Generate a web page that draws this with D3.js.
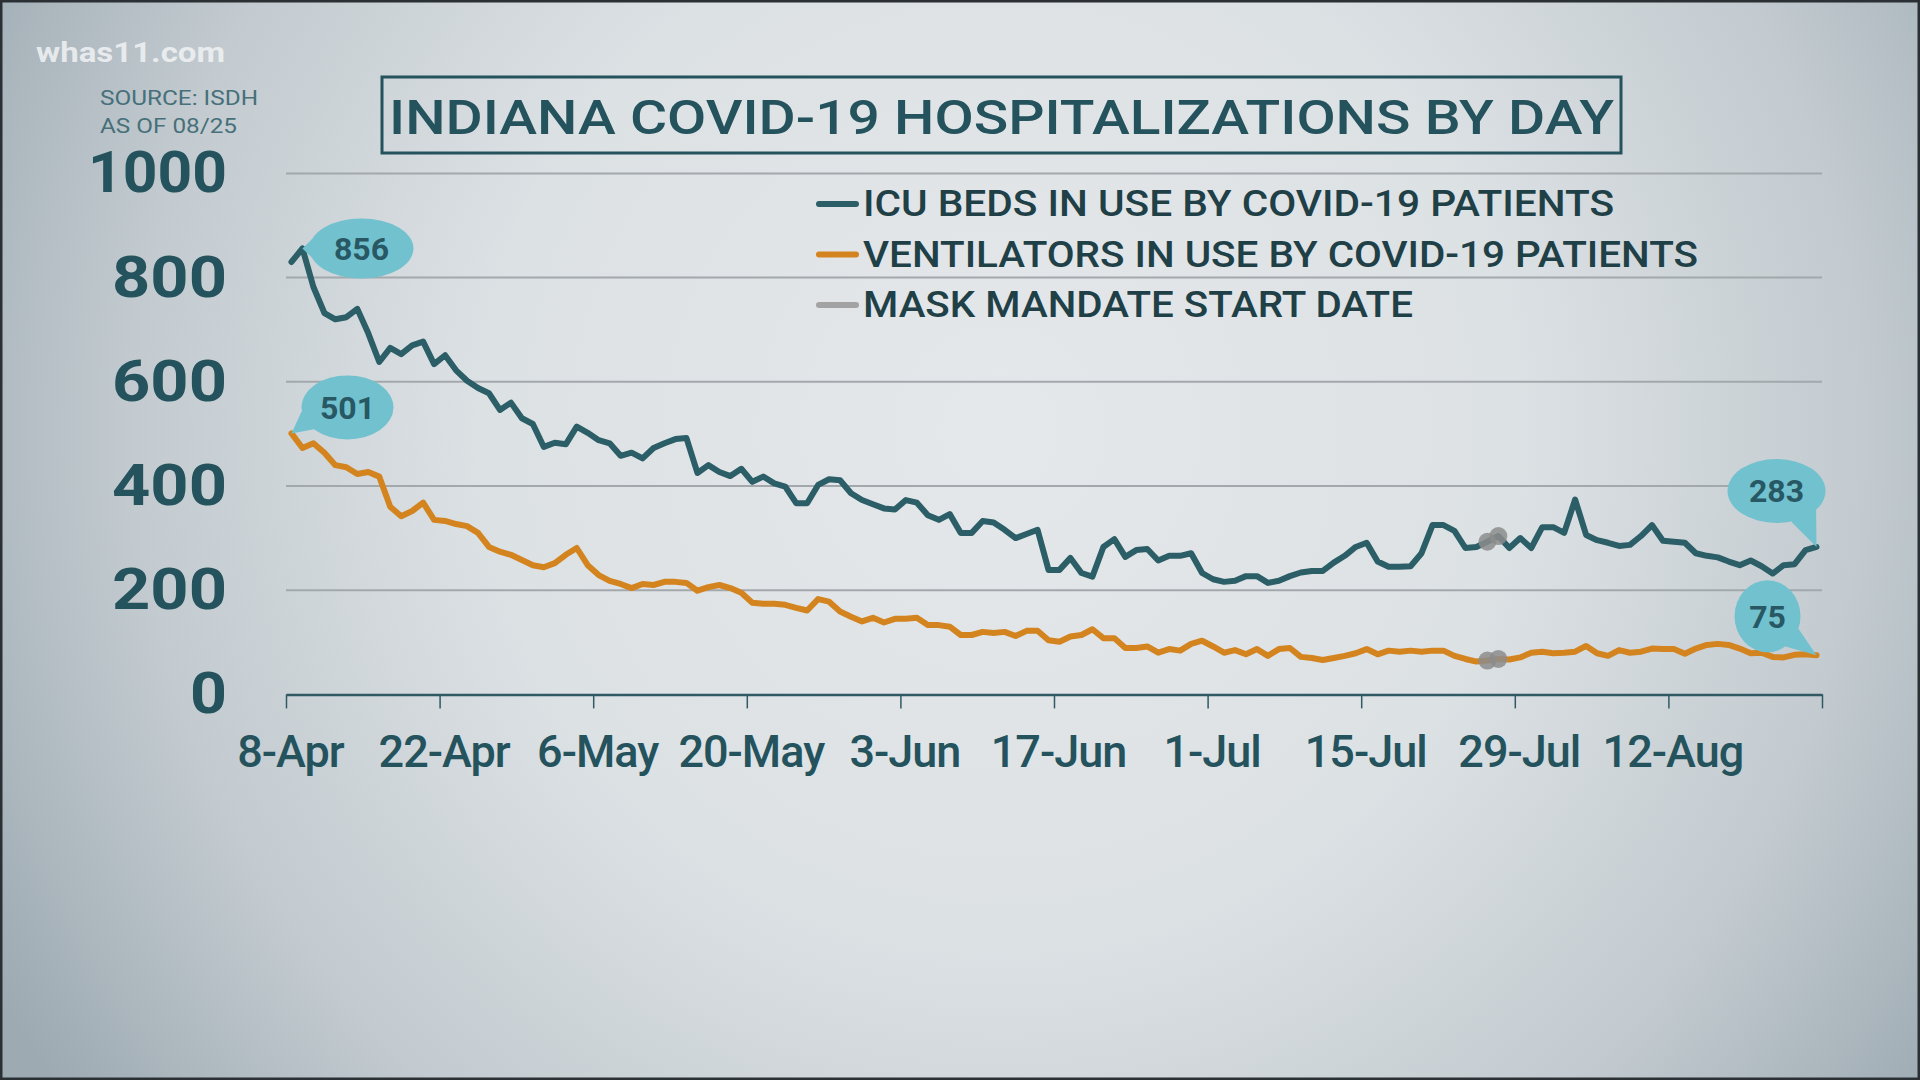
<!DOCTYPE html>
<html><head><meta charset="utf-8">
<script src="https://cdn.jsdelivr.net/npm/d3@7"></script>
<style>html,body{margin:0;padding:0;overflow:hidden;background:#c9d0d4}</style>
</head><body><svg id="chart" width="1920" height="1080"></svg>
<script>
// ---------------- DATA ----------------
const startDate = "2020-04-08";           // first daily value
const icuBeds = [830,856,782,732,720,724,740,693,638,665,653,670,677,634,651,622,602,588,578,546,
  560,530,519,475,483,480,514,502,488,482,458,464,453,473,482,490,492,425,440,427,
  419,433,408,418,405,399,367,367,402,413,411,386,373,365,357,355,373,368,344,335,
  346,310,310,333,330,316,300,308,316,239,239,262,233,226,283,298,264,277,279,257,
  266,266,271,233,221,216,218,227,227,214,218,227,234,237,237,253,266,283,291,255,
  245,245,246,271,325,325,314,281,283,293,304,281,300,281,321,321,310,374,306,296,
  291,285,287,304,325,295,293,291,271,266,263,255,248,257,246,232,248,250,277,283];
const ventilators = [501,473,482,464,440,436,423,427,418,360,342,352,368,335,333,327,323,310,283,274,
  268,258,248,244,252,268,281,248,229,218,212,204,212,210,216,216,214,199,206,210,
  204,195,176,174,174,172,166,161,183,178,159,149,140,147,138,145,145,147,133,133,
  130,114,114,120,118,120,112,122,122,104,101,111,114,125,108,108,89,89,92,80,
  87,84,97,103,92,80,85,77,87,74,87,89,72,70,66,70,74,79,87,77,
  84,82,84,82,84,84,74,68,63,65,68,67,71,80,82,79,80,82,93,79,
  74,85,80,82,88,87,87,78,88,95,97,95,88,79,80,72,71,76,77,75];
const maskMandateDates = ["2020-07-26","2020-07-27"];
const xTickDates = ["2020-04-08","2020-04-22","2020-05-06","2020-05-20","2020-06-03","2020-06-17",
  "2020-07-01","2020-07-15","2020-07-29","2020-08-12","2020-08-26"];
const xTickLabels = ["8-Apr","22-Apr","6-May","20-May","3-Jun","17-Jun","1-Jul","15-Jul","29-Jul","12-Aug",""];
const yTicks = [0,200,400,600,800,1000];
const legendLabels = ["ICU BEDS IN USE BY COVID-19 PATIENTS","VENTILATORS IN USE BY COVID-19 PATIENTS","MASK MANDATE START DATE"];
const titleText = "INDIANA COVID-19 HOSPITALIZATIONS BY DAY";
const sourceLines = ["SOURCE: ISDH","AS OF 08/25"];
const logoText = "whas11.com";

// ---------------- STYLE ----------------
const C = {icu:"#2b5e67", vent:"#d4841f", mask:"#8c8c8c", text:"#24535d", legend:"#1f4047",
  grid:"#a2a8ac", axis:"#2f5a63", bubble:"#72c1cf", bubbleText:"#275864"};
const FONT = "Roboto, 'Open Sans', Lato, sans-serif";

const svg = d3.select("#chart");
const defs = svg.append("defs");
const rg = defs.append("radialGradient").attr("id","bg").attr("gradientUnits","userSpaceOnUse")
  .attr("cx",1000).attr("cy",430).attr("r",1150);
rg.append("stop").attr("offset","0%").attr("stop-color","#e5e8ea");
rg.append("stop").attr("offset","45%").attr("stop-color","#dce1e4");
rg.append("stop").attr("offset","75%").attr("stop-color","#c3cbd0");
rg.append("stop").attr("offset","100%").attr("stop-color","#9daab2");
svg.append("rect").attr("width",1920).attr("height",1080).attr("fill","url(#bg)");
svg.append("rect").attr("x",1).attr("y",1).attr("width",1918).attr("height",1078)
  .attr("fill","none").attr("stroke","#2a3034").attr("stroke-width",3);

// ---------------- SCALES ----------------
const parse = d3.utcParse("%Y-%m-%d");
const start = parse(startDate);
const dates = icuBeds.map((_, i) => d3.utcDay.offset(start, i));
const x = d3.scaleUtc().domain([parse(xTickDates[0]), parse(xTickDates[xTickDates.length-1])]).range([286, 1822]);
const y = d3.scaleLinear().domain([0, 1000]).range([694.4, 173.4]);
const xc = d => x(d3.utcHour.offset(d, 12));   // daily values plotted at mid-day

// gridlines
svg.append("g").selectAll("line").data(yTicks.filter(v => v > 0)).join("line")
  .attr("x1", x.range()[0]).attr("x2", x.range()[1])
  .attr("y1", d => y(d)).attr("y2", d => y(d))
  .attr("stroke", C.grid).attr("stroke-width", 2);

// y labels
const yAxis = svg.append("g").attr("transform", `translate(${x.range()[0]},0)`)
  .call(d3.axisLeft(y).tickValues(yTicks).tickSize(0).tickPadding(59).tickFormat(d3.format("d")));
yAxis.select(".domain").remove();
yAxis.selectAll("text").attr("font-family", FONT).attr("font-weight", 700)
  .attr("font-size", 58).attr("fill", C.text)
  .attr("textLength", d => d === 1000 ? 139 : d === 0 ? 37 : 115)
  .attr("lengthAdjust", "spacingAndGlyphs");

// x axis
const xAxis = svg.append("g").attr("transform", `translate(0,${y(0)})`)
  .call(d3.axisBottom(x).tickValues(xTickDates.map(parse)).tickSize(14).tickSizeOuter(0)
    .tickPadding(27).tickFormat((d, i) => xTickLabels[i]));
xAxis.select(".domain").attr("stroke", C.axis).attr("stroke-width", 2.5);
xAxis.selectAll(".tick line").attr("stroke", C.axis).attr("stroke-width", 1.5);
xAxis.selectAll("text").attr("font-family", FONT).attr("font-weight", 500)
  .attr("font-size", 45).attr("fill", C.text).attr("dx", 4).attr("letter-spacing", -1);

// ---------------- LINES ----------------
const line = d3.line().x((d, i) => xc(dates[i])).y(d => y(d));
svg.append("path").datum(ventilators).attr("d", line).attr("fill", "none")
  .attr("stroke", C.vent).attr("stroke-width", 6).attr("stroke-linejoin", "round").attr("stroke-linecap", "round");
svg.append("path").datum(icuBeds).attr("d", line).attr("fill", "none")
  .attr("stroke", C.icu).attr("stroke-width", 6).attr("stroke-linejoin", "round").attr("stroke-linecap", "round");

// mask mandate markers
const maskIdx = maskMandateDates.map(s => d3.utcDay.count(start, parse(s)));
[icuBeds, ventilators].forEach(series => {
  svg.append("g").selectAll("circle").data(maskIdx).join("circle")
    .attr("cx", i => xc(dates[i])).attr("cy", i => y(series[i])).attr("r", 9)
    .attr("fill", C.mask).attr("opacity", 0.85);
});

// ---------------- CALLOUTS ----------------
function bubble(i, series, dx, dy, rx, ry) {
  const ax = xc(dates[i]), ay = y(series[i]);
  const cx = ax + dx, cy = ay + dy;
  const th = Math.atan2(ay - cy, ax - cx), dl = 0.32;
  const p1 = [cx + rx * Math.cos(th - dl), cy + ry * Math.sin(th - dl)];
  const p2 = [cx + rx * Math.cos(th + dl), cy + ry * Math.sin(th + dl)];
  const g = svg.append("g");
  g.append("path").attr("d", `M${p1}L${ax},${ay}L${p2}Z`).attr("fill", C.bubble);
  g.append("ellipse").attr("cx", cx).attr("cy", cy).attr("rx", rx).attr("ry", ry).attr("fill", C.bubble);
  g.append("text").attr("x", cx).attr("y", cy).attr("dy", "0.36em").attr("text-anchor", "middle")
    .attr("font-family", FONT).attr("font-weight", 700).attr("font-size", 32)
    .attr("fill", C.bubbleText).text(series[i]);
}
const iMax = d3.maxIndex(icuBeds), last = icuBeds.length - 1;
bubble(iMax, icuBeds, 59, 0, 52, 30);
bubble(0, ventilators, 56, -26, 46, 32);
bubble(last, icuBeds, -40, -56, 49, 32);
bubble(last, ventilators, -49, -39, 33, 36);

// ---------------- LEGEND ----------------
const legendColors = [C.icu, C.vent, "#a3a3a3"];
const legendWidths = [751, 835, 550];
const lg = svg.append("g");
legendLabels.forEach((t, i) => {
  const by = 216 + i * 50.5;
  lg.append("line").attr("x1", 819).attr("x2", 856).attr("y1", by - 12).attr("y2", by - 12)
    .attr("stroke", legendColors[i]).attr("stroke-width", 6).attr("stroke-linecap", "round");
  lg.append("text").attr("x", 863).attr("y", by).attr("font-family", FONT).attr("font-weight", 500)
    .attr("font-size", 36).attr("fill", C.legend)
    .attr("textLength", legendWidths[i]).attr("lengthAdjust", "spacingAndGlyphs").text(t);
});

// ---------------- TITLE / SOURCE / LOGO ----------------
svg.append("rect").attr("x", 382).attr("y", 77).attr("width", 1239).attr("height", 76)
  .attr("fill", "none").attr("stroke", C.text).attr("stroke-width", 3);
svg.append("text").attr("x", 1001.5).attr("y", 134).attr("text-anchor", "middle")
  .attr("font-family", FONT).attr("font-weight", 500).attr("font-size", 48).attr("fill", C.text)
  .attr("textLength", 1225).attr("lengthAdjust", "spacingAndGlyphs").text(titleText);
sourceLines.forEach((t, i) => {
  svg.append("text").attr("x", 100).attr("y", 105 + i * 28).attr("font-family", FONT)
    .attr("font-weight", 400).attr("font-size", 20).attr("fill", "#47707a")
    .attr("textLength", i === 0 ? 158 : 137).attr("lengthAdjust", "spacingAndGlyphs").text(t);
});
svg.append("text").attr("x", 36).attr("y", 62).attr("font-family", FONT).attr("font-weight", 700)
  .attr("font-size", 28).attr("fill", "#f1f3f4").attr("opacity", 0.85)
  .attr("textLength", 189).attr("lengthAdjust", "spacingAndGlyphs").text(logoText);
</script></body></html>
